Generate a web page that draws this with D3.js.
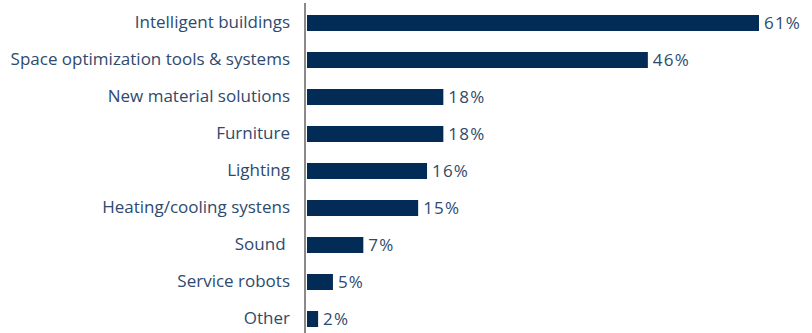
<!DOCTYPE html>
<html>
<head>
<meta charset="utf-8">
<script src="https://cdn.jsdelivr.net/npm/d3@7"></script>
<style>
  html, body { margin: 0; padding: 0; background: #fff; }
  svg { display: block; }
  text { font-family: "Open Sans", sans-serif; white-space: pre; }
</style>
</head>
<body>
<div id="chart"></div>
<script>
const categories = [
  "Intelligent buildings",
  "Space optimization tools & systems",
  "New material solutions",
  "Furniture",
  "Lighting",
  "Heating/cooling systens",
  "Sound ",
  "Service robots",
  "Other"
];
// bar lengths (percent)
const values = [61, 46, 18.4, 18.4, 16.2, 15, 7.6, 3.5, 1.5];
// printed data labels
const valueLabels = ["61%", "46%", "18%", "18%", "16%", "15%", "7%", "5%", "2%"];

const W = 812, H = 333;
const axisX = 305;

const svg = d3.select("#chart").append("svg")
  .attr("width", W).attr("height", H);

const x = d3.scaleLinear().domain([0, 61]).range([axisX + 2, 759]);
const step = 37;
const y = d3.scaleBand()
  .domain(categories)
  .range([23 - step / 2, 23 - step / 2 + step * categories.length])
  .paddingInner(21 / 37)
  .paddingOuter(21 / 74);

// bars
svg.append("g").selectAll("rect")
  .data(categories)
  .join("rect")
  .attr("x", x(0))
  .attr("y", d => y(d))
  .attr("width", (d, i) => x(values[i]) - x(0))
  .attr("height", y.bandwidth())
  .attr("fill", "#022c56");

// category axis
const yAxis = d3.axisLeft(y).tickSize(0).tickPadding(15);
const gy = svg.append("g")
  .attr("transform", `translate(${axisX},0)`)
  .call(yAxis);
gy.select(".domain").remove();
gy.selectAll("text")
  .attr("fill", "#2e4a6e")
  .attr("xml:space", "preserve")
  .style("white-space", "pre")
  .style("font-size", "17px")
  .style("font-family", "'Open Sans', sans-serif");

svg.append("line")
  .attr("x1", axisX).attr("x2", axisX)
  .attr("y1", 3).attr("y2", H)
  .attr("stroke", "#8a8a8a")
  .attr("stroke-width", 2);

// value labels
svg.append("g").selectAll("text")
  .data(categories)
  .join("text")
  .attr("x", (d, i) => x(values[i]) + 5)
  .attr("y", d => y(d) + y.bandwidth() / 2)
  .attr("dy", "0.36em")
  .attr("fill", "#2e4a6e")
  .style("font-size", "17px")
  .style("letter-spacing", "1.2px")
  .text((d, i) => valueLabels[i]);
</script>
</body>
</html>
